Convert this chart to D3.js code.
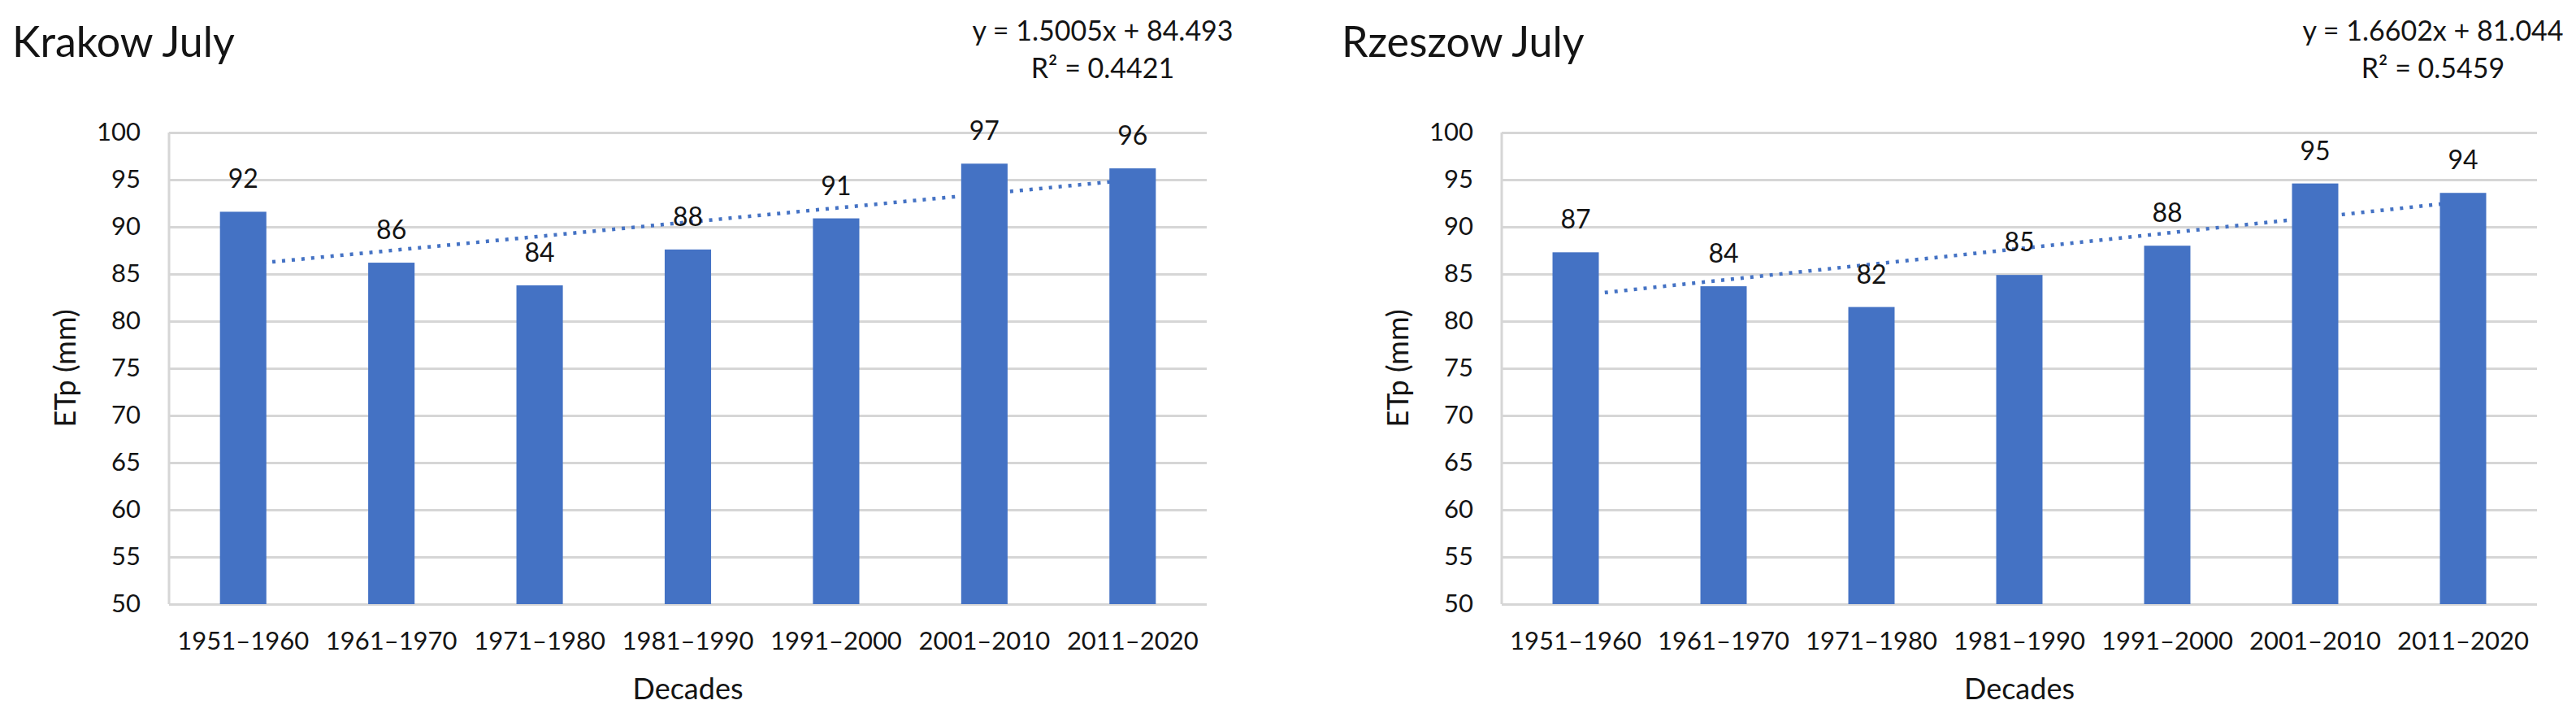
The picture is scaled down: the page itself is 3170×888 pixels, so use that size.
<!DOCTYPE html>
<html>
<head>
<meta charset="utf-8">
<script src="https://cdn.jsdelivr.net/npm/d3@7"></script>
<style>
  body { margin: 0; background: #ffffff; }
  svg { display: block; }
  text { font-family: Lato, "Open Sans", sans-serif; fill: #141414; }
</style>
</head>
<body>
<svg id="chart" width="3170" height="888"></svg>
<script>
// ---------------- data ----------------
const categories = ["1951–1960", "1961–1970", "1971–1980", "1981–1990", "1991–2000", "2001–2010", "2011–2020"];
const krakowValues = [91.6, 86.2, 83.8, 87.6, 90.9, 96.7, 96.2];
const rzeszowValues = [87.3, 83.7, 81.5, 84.9, 88.0, 94.6, 93.6];
const krakowTrend = [1.5005, 84.493];   // slope, intercept
const rzeszowTrend = [1.6602, 81.044];
const krakowEquation = ["y = 1.5005x + 84.493", "R² = 0.4421"];
const rzeszowEquation = ["y = 1.6602x + 81.044", "R² = 0.5459"];
const titles = ["Krakow July", "Rzeszow July"];
const yTicks = [50, 55, 60, 65, 70, 75, 80, 85, 90, 95, 100];
const yDomain = [50, 100];
const yTitle = "ETp (mm)";
const xTitle = "Decades";

// ---------------- layout ----------------
const plotTop = 163, plotBottom = 743;
const panels = [
  { title: titles[0], values: krakowValues, trend: krakowTrend, eq: krakowEquation, left: 208, right: 1485, titleX: 15 },
  { title: titles[1], values: rzeszowValues, trend: rzeszowTrend, eq: rzeszowEquation, left: 1848, right: 3122, titleX: 1651 }
];
const barColor = "#4472C4";
const gridColor = "#d6d6d6";
const textColor = "#141414";

const svg = d3.select("#chart");

panels.forEach(p => {
  const g = svg.append("g");
  const x = d3.scaleBand().domain(categories).range([p.left, p.right])
    .paddingInner(0.687).paddingOuter(0.687 / 2);
  const y = d3.scaleLinear().domain(yDomain).range([plotBottom, plotTop]);

  // title
  g.append("text").attr("x", p.titleX).attr("y", 70)
    .style("font-size", "52px").text(p.title);

  // gridlines
  const grid = g.append("g").attr("transform", `translate(${p.left},0)`)
    .call(d3.axisLeft(y).tickValues(yTicks).tickSize(-(p.right - p.left)).tickFormat(""));
  grid.select(".domain").remove();
  grid.selectAll(".tick line").attr("stroke", gridColor).attr("stroke-width", 3);

  // vertical axis line
  g.append("line").attr("x1", p.left).attr("x2", p.left).attr("y1", plotTop).attr("y2", plotBottom)
    .attr("stroke", gridColor).attr("stroke-width", 3);

  // y axis labels
  const yAxis = g.append("g").attr("transform", `translate(${p.left},0)`)
    .call(d3.axisLeft(y).tickValues(yTicks).tickSize(0).tickPadding(35));
  yAxis.select(".domain").remove();
  yAxis.selectAll("text").style("font-size", "31px").style("font-family", "Lato, sans-serif").attr("fill", textColor);

  // x axis labels
  const xAxis = g.append("g").attr("transform", `translate(0,${plotBottom})`)
    .call(d3.axisBottom(x).tickSize(0));
  xAxis.select(".domain").remove();
  xAxis.selectAll("text").attr("y", 56).attr("dy", null)
    .style("font-size", "31px").style("font-family", "Lato, sans-serif").attr("fill", textColor);

  // trendline (behind bars)
  const pts = categories.map((c, i) => [x(c) + x.bandwidth() / 2, y(p.trend[0] * (i + 1) + p.trend[1])]);
  g.append("path").attr("d", d3.line()([pts[0], pts[pts.length - 1]]))
    .attr("fill", "none").attr("stroke", barColor).attr("stroke-width", 4.5)
    .attr("stroke-dasharray", "4 8");

  // bars
  g.selectAll("rect.bar").data(p.values).join("rect").attr("class", "bar")
    .attr("x", (d, i) => x(categories[i]))
    .attr("width", x.bandwidth())
    .attr("y", d => y(d))
    .attr("height", d => y(yDomain[0]) - y(d))
    .attr("fill", barColor);

  // data labels
  g.selectAll("text.dl").data(p.values).join("text").attr("class", "dl")
    .attr("x", (d, i) => x(categories[i]) + x.bandwidth() / 2)
    .attr("y", d => y(d) - 29)
    .attr("text-anchor", "middle").style("font-size", "32px")
    .text(d => Math.round(d));

  // axis titles
  g.append("text").attr("x", (p.left + p.right) / 2).attr("y", 860)
    .attr("text-anchor", "middle").style("font-size", "36px").text(xTitle);
  g.append("text").attr("transform", `translate(${p.left - 115},${(plotTop + plotBottom) / 2}) rotate(-90)`)
    .attr("text-anchor", "middle").style("font-size", "36px").text(yTitle);

  // trend equation
  g.append("text").attr("x", p.right - 128).attr("y", 50)
    .attr("text-anchor", "middle").style("font-size", "34px").text(p.eq[0]);
  g.append("text").attr("x", p.right - 128).attr("y", 96)
    .attr("text-anchor", "middle").style("font-size", "34px").text(p.eq[1]);
});
</script>
</body>
</html>
